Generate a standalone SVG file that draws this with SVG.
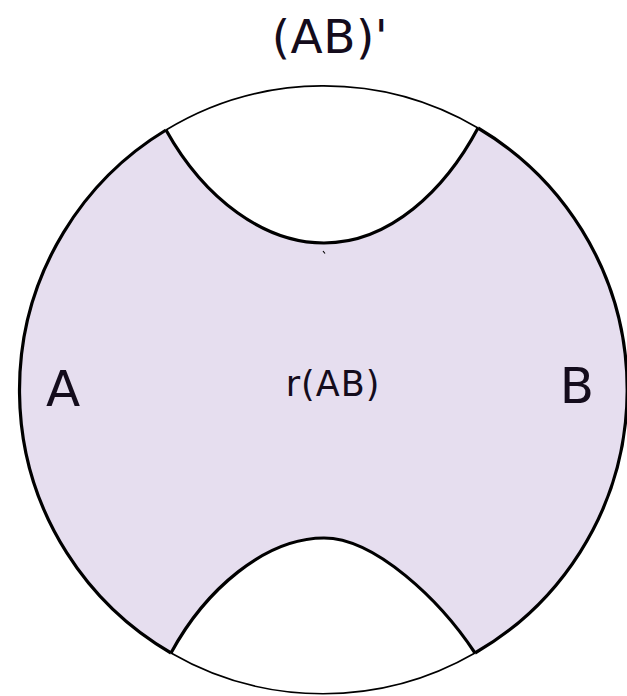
<svg xmlns="http://www.w3.org/2000/svg" width="627" height="696" viewBox="0 0 627 696">
<style>
.lbl{font-family:"DejaVu Sans",sans-serif;fill:#140c1c}
.curve{fill:none;stroke:#000;stroke-width:3.2;stroke-linejoin:round}
.thin{fill:none;stroke:#000;stroke-width:1.6}
</style>
<rect width="627" height="696" fill="#fff"/>
<g id="region-rAB">
<path d="M166,130 A304,304 0 0 0 171,653 C205,590 265,538 324,538 C375,538 440,600 475,653 A304,304 0 0 0 478,128 C445,190 390,243 324,243 C265,243 205,200 166,130 Z" fill="#e6deef" stroke="none"/>
</g>
<g id="boundary">
<path class="thin" d="M166,130 A304,304 0 0 1 478,128"/>
<path class="thin" d="M171,653 A304,304 0 0 0 475,653"/>
<path class="curve" d="M166,130 A304,304 0 0 0 171,653"/>
<path class="curve" d="M475,653 A304,304 0 0 0 478,128"/>
<path class="curve" d="M166,130 C205,200 265,243 324,243 C390,243 445,190 478,128"/>
<path class="curve" d="M171,653 C205,590 265,538 324,538 C375,538 440,600 475,653"/>
<path d="M323,251 L325,253.5" stroke="#000" stroke-width="1.2"/>
</g>
<g id="labels">
<text class="lbl" x="330" y="53" font-size="47" letter-spacing="0.5" text-anchor="middle">(AB)'</text>
<text class="lbl" x="63" y="406" font-size="50" text-anchor="middle">A</text>
<text class="lbl" x="333" y="396" font-size="35" letter-spacing="1" text-anchor="middle">r(AB)</text>
<text class="lbl" x="577" y="403" font-size="50" text-anchor="middle">B</text>
</g>
</svg>
